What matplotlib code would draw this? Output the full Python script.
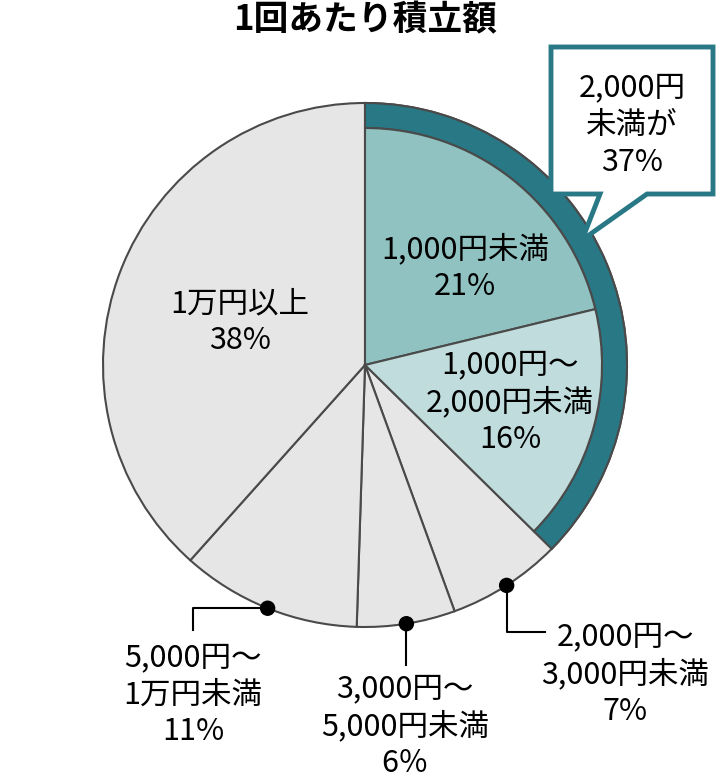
import numpy as np
import matplotlib
matplotlib.use("Agg")
import matplotlib.pyplot as plt
from matplotlib.patches import Polygon, Circle

plt.rcParams['font.family'] = ['Noto Sans CJK JP', 'DejaVu Sans']

# data
title = "1回あたり積立額"
labels = ["1,000円未満", "1,000円～\n2,000円未満", "2,000円～\n3,000円未満",
          "3,000円～\n5,000円未満", "5,000円～\n1万円未満", "1万円以上"]
shares = [21, 16, 7, 6, 11, 38]
pct_text = ["21%", "16%", "7%", "6％", "11%", "38%"]
callout_text = "2,000円\n未満が\n37%"

# colours
c_ring = "#287886"
c_low1 = "#8fc2c0"
c_low2 = "#c0dcdc"
c_gray = "#e6e6e6"
c_edge = "#4a4a4a"

W, H = 728, 779
fig = plt.figure(figsize=(W / 100, H / 100), dpi=100)
ax = fig.add_axes([0, 0, 1, 1])

def Y(py):
    return H - py

cx, cy = 365, 365
r_out, r_in = 262, 237
center = (cx, Y(cy))
ew = 1.5
total = sum(shares)
low = shares[0] + shares[1]

# full pie, outer radius
ax.pie(shares, radius=r_out, center=center, startangle=90, counterclock=False,
       colors=[c_ring, c_ring] + [c_gray] * 4,
       wedgeprops=dict(edgecolor=c_edge, linewidth=ew), frame=True)

# ring over the "under 2,000" share
ring, _ = ax.pie([low, total - low], radius=r_out, center=center, startangle=90,
                 counterclock=False, colors=[c_ring, "none"],
                 wedgeprops=dict(width=r_out - r_in, edgecolor=c_edge, linewidth=ew))
ring[1].set_edgecolor("none")

# inner teal wedges
inner, _ = ax.pie([shares[0], shares[1], total - low], radius=r_in, center=center,
                  startangle=90, counterclock=False,
                  colors=[c_low1, c_low2, "none"],
                  wedgeprops=dict(edgecolor=c_edge, linewidth=ew))
inner[2].set_edgecolor("none")

ax.set_xlim(0, W)
ax.set_ylim(0, H)
ax.set_aspect("equal")
ax.axis("off")

fs = 22
ls = 1.25

# inside labels
ax.text(465, Y(268), labels[0] + "\n" + pct_text[0], ha="center", va="center",
        fontsize=fs, linespacing=ls)
ax.text(510, Y(402), labels[1] + "\n" + pct_text[1], ha="center", va="center",
        fontsize=fs, linespacing=ls)
ax.text(240, Y(322), labels[5] + "\n" + pct_text[5], ha="center", va="center",
        fontsize=fs, linespacing=ls)

# outside labels with leader dots
cum = np.cumsum([0] + shares)
def edge_point(i):
    a = np.deg2rad((cum[i] + cum[i + 1]) / 2 / total * 360)
    return cx + r_out * np.sin(a), cy - r_out * np.cos(a)

# 2,000-3,000
px, py = edge_point(2)
ax.plot([px, px, 545], [Y(py), Y(632), Y(632)], color="black", lw=1.5)
ax.add_patch(Circle((px, Y(py)), 7, color="black", zorder=5))
ax.text(625, Y(674), labels[2] + "\n" + pct_text[2], ha="center", va="center",
        fontsize=fs, linespacing=ls)

# 3,000-5,000
px, py = edge_point(3)
ax.plot([px, px], [Y(py), Y(665)], color="black", lw=1.5)
ax.add_patch(Circle((px, Y(py)), 7, color="black", zorder=5))
ax.text(405, Y(726), labels[3] + "\n" + pct_text[3], ha="center", va="center",
        fontsize=fs, linespacing=ls)

# 5,000-10,000
px, py = edge_point(4)
ax.plot([px, 193, 193], [Y(py), Y(py), Y(630)], color="black", lw=1.5)
ax.add_patch(Circle((px, Y(py)), 7, color="black", zorder=5))
ax.text(193, Y(695), labels[4] + "\n" + pct_text[4], ha="center", va="center",
        fontsize=fs, linespacing=ls)

# callout box
box = [(551, 47), (713, 47), (713, 194), (647, 194), (582, 240), (600, 194), (551, 194)]
ax.add_patch(Polygon([(x, Y(y)) for x, y in box], closed=True, facecolor="white",
                     edgecolor=c_ring, linewidth=3.5, zorder=6))
ax.text(632, Y(125), callout_text, ha="center", va="center", fontsize=fs,
        linespacing=ls, zorder=7)

# title
ax.text(365, Y(20), title, ha="center", va="center", fontsize=25, fontweight="bold")

fig.savefig("out.png", dpi=100)
